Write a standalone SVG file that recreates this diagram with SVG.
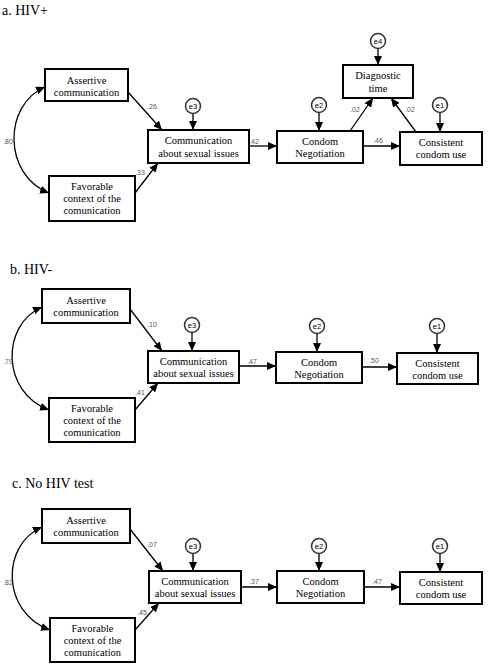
<svg xmlns="http://www.w3.org/2000/svg" width="488" height="668" viewBox="0 0 488 668">
<style>
.box{fill:#fff;stroke:#000;stroke-width:2}
.err{fill:#fff;stroke:#333;stroke-width:1.5}
.t{font-family:"Liberation Serif","Times New Roman",serif;font-size:10.5px;fill:#000;text-anchor:middle}
.et{font-family:"Liberation Sans",Arial,sans-serif;font-size:7.5px;fill:#000;text-anchor:middle}
.lab{font-family:"Liberation Sans",Arial,sans-serif;font-size:7px;fill:#555;text-anchor:middle}
.title{font-family:"Liberation Serif","Times New Roman",serif;font-size:14px;fill:#000}
.c{fill:none;stroke:#000;stroke-width:1.3}
</style>
<defs>
<marker id="ah" markerUnits="userSpaceOnUse" markerWidth="10" markerHeight="8" refX="9" refY="4" orient="auto-start-reverse">
<path d="M0,0 L9,4 L0,8 Z" fill="#000"/>
</marker>
</defs>
<rect width="488" height="668" fill="#fff"/>

<text class="title" x="2" y="15">a. HIV+</text>
<text class="title" x="10" y="274">b. HIV-</text>
<text class="title" x="12" y="488">c. No HIV test</text>

<g id="connectors">
<!-- panel a -->
<path class="c" d="M45,87 C3,105 3,175 49,193" marker-start="url(#ah)" marker-end="url(#ah)"/>
<line class="c" x1="128" y1="92" x2="162" y2="130" marker-end="url(#ah)"/>
<line class="c" x1="135" y1="193" x2="158" y2="163" marker-end="url(#ah)"/>
<line class="c" x1="193" y1="113.5" x2="193" y2="130" marker-end="url(#ah)"/>
<line class="c" x1="249" y1="146" x2="277" y2="146" marker-end="url(#ah)"/>
<line class="c" x1="319" y1="112.5" x2="319" y2="131" marker-end="url(#ah)"/>
<line class="c" x1="363" y1="146" x2="400" y2="146" marker-end="url(#ah)"/>
<line class="c" x1="440" y1="112.5" x2="440" y2="132" marker-end="url(#ah)"/>
<line class="c" x1="378" y1="48.5" x2="378" y2="65" marker-end="url(#ah)"/>
<line class="c" x1="350" y1="131" x2="373" y2="98" marker-end="url(#ah)"/>
<line class="c" x1="416" y1="132" x2="391" y2="98" marker-end="url(#ah)"/>
<!-- panel b -->
<path class="c" d="M42,307 C1,325 1,392 49,410" marker-start="url(#ah)" marker-end="url(#ah)"/>
<line class="c" x1="130" y1="309" x2="162" y2="351" marker-end="url(#ah)"/>
<line class="c" x1="135" y1="410" x2="158" y2="383" marker-end="url(#ah)"/>
<line class="c" x1="192" y1="332.5" x2="192" y2="351" marker-end="url(#ah)"/>
<line class="c" x1="239" y1="366" x2="276" y2="366" marker-end="url(#ah)"/>
<line class="c" x1="317" y1="333.5" x2="317" y2="352" marker-end="url(#ah)"/>
<line class="c" x1="362" y1="367" x2="397" y2="367" marker-end="url(#ah)"/>
<line class="c" x1="437" y1="333.5" x2="437" y2="353" marker-end="url(#ah)"/>
<!-- panel c -->
<path class="c" d="M42,527 C1,545 1,612 50,630" marker-start="url(#ah)" marker-end="url(#ah)"/>
<line class="c" x1="130" y1="529" x2="163" y2="571" marker-end="url(#ah)"/>
<line class="c" x1="135" y1="630" x2="159" y2="603" marker-end="url(#ah)"/>
<line class="c" x1="193" y1="553.5" x2="193" y2="571" marker-end="url(#ah)"/>
<line class="c" x1="241" y1="587" x2="277" y2="587" marker-end="url(#ah)"/>
<line class="c" x1="319" y1="553.5" x2="319" y2="571" marker-end="url(#ah)"/>
<line class="c" x1="364" y1="587" x2="400" y2="587" marker-end="url(#ah)"/>
<line class="c" x1="440" y1="553.5" x2="440" y2="572" marker-end="url(#ah)"/>
</g>

<g id="labels">
<text class="lab" x="8" y="144">.80</text>
<text class="lab" x="152" y="109">.26</text>
<text class="lab" x="140" y="175">.33</text>
<text class="lab" x="254" y="144">.42</text>
<text class="lab" x="378" y="143">.46</text>
<text class="lab" x="355" y="112">.02</text>
<text class="lab" x="410" y="112">.02</text>

<text class="lab" x="8" y="364">.79</text>
<text class="lab" x="152" y="327">.10</text>
<text class="lab" x="140" y="395">.41</text>
<text class="lab" x="252" y="364">.47</text>
<text class="lab" x="374" y="363">.50</text>

<text class="lab" x="8" y="585">.82</text>
<text class="lab" x="152" y="547">.07</text>
<text class="lab" x="142" y="615">.45</text>
<text class="lab" x="254" y="584">.37</text>
<text class="lab" x="377" y="584">.47</text>
</g>

<!-- panel a nodes -->
<g id="a-assertive"><rect class="box" x="45" y="69" width="83" height="32"/><text class="t" x="86.5" y="84">Assertive</text><text class="t" x="86.5" y="96">communication</text></g>
<g id="a-favorable"><rect class="box" x="49" y="176" width="86" height="45"/><text class="t" x="92" y="190">Favorable</text><text class="t" x="92" y="202">context of the</text><text class="t" x="92" y="214">comunication</text></g>
<g id="a-comm"><rect class="box" x="148" y="130" width="101" height="33"/><text class="t" x="198.5" y="144">Communication</text><text class="t" x="198.5" y="157">about sexual issues</text></g>
<g id="a-condom"><rect class="box" x="277" y="131" width="86" height="32"/><text class="t" x="320" y="145">Condom</text><text class="t" x="320" y="157">Negotiation</text></g>
<g id="a-diag"><rect class="box" x="343" y="65" width="70" height="33"/><text class="t" x="378" y="79">Diagnostic</text><text class="t" x="378" y="92">time</text></g>
<g id="a-consistent"><rect class="box" x="400" y="132" width="82" height="33"/><text class="t" x="441" y="146">Consistent</text><text class="t" x="441" y="158">condom use</text></g>
<g id="a-e3"><circle class="err" cx="193" cy="106" r="7.5"/><text class="et" x="193" y="108.7">e3</text></g>
<g id="a-e2"><circle class="err" cx="319" cy="105" r="7.5"/><text class="et" x="319" y="107.7">e2</text></g>
<g id="a-e4"><circle class="err" cx="378" cy="41" r="7.5"/><text class="et" x="378" y="43.7">e4</text></g>
<g id="a-e1"><circle class="err" cx="440" cy="105" r="7.5"/><text class="et" x="440" y="107.7">e1</text></g>

<!-- panel b nodes -->
<g id="b-assertive"><rect class="box" x="42" y="289" width="88" height="34"/><text class="t" x="86" y="304">Assertive</text><text class="t" x="86" y="316">communication</text></g>
<g id="b-favorable"><rect class="box" x="49" y="398" width="86" height="44"/><text class="t" x="92" y="412">Favorable</text><text class="t" x="92" y="424">context of the</text><text class="t" x="92" y="436">comunication</text></g>
<g id="b-comm"><rect class="box" x="148" y="351" width="91" height="32"/><text class="t" x="193.5" y="365">Communication</text><text class="t" x="193.5" y="377">about sexual issues</text></g>
<g id="b-condom"><rect class="box" x="276" y="352" width="86" height="31"/><text class="t" x="319" y="366">Condom</text><text class="t" x="319" y="378">Negotiation</text></g>
<g id="b-consistent"><rect class="box" x="397" y="353" width="81" height="31"/><text class="t" x="437.5" y="367">Consistent</text><text class="t" x="437.5" y="379">condom use</text></g>
<g id="b-e3"><circle class="err" cx="192" cy="325" r="7.5"/><text class="et" x="192" y="327.7">e3</text></g>
<g id="b-e2"><circle class="err" cx="317" cy="326" r="7.5"/><text class="et" x="317" y="328.7">e2</text></g>
<g id="b-e1"><circle class="err" cx="437" cy="326" r="7.5"/><text class="et" x="437" y="328.7">e1</text></g>

<!-- panel c nodes -->
<g id="c-assertive"><rect class="box" x="42" y="509" width="88" height="34"/><text class="t" x="86" y="524">Assertive</text><text class="t" x="86" y="536">communication</text></g>
<g id="c-favorable"><rect class="box" x="50" y="618" width="85" height="44"/><text class="t" x="92.5" y="632">Favorable</text><text class="t" x="92.5" y="644">context of the</text><text class="t" x="92.5" y="656">comunication</text></g>
<g id="c-comm"><rect class="box" x="149" y="571" width="92" height="32"/><text class="t" x="195" y="585">Communication</text><text class="t" x="195" y="597">about sexual issues</text></g>
<g id="c-condom"><rect class="box" x="277" y="571" width="87" height="32"/><text class="t" x="320.5" y="585">Condom</text><text class="t" x="320.5" y="597">Negotiation</text></g>
<g id="c-consistent"><rect class="box" x="400" y="572" width="82" height="32"/><text class="t" x="441" y="586">Consistent</text><text class="t" x="441" y="598">condom use</text></g>
<g id="c-e3"><circle class="err" cx="193" cy="546" r="7.5"/><text class="et" x="193" y="548.7">e3</text></g>
<g id="c-e2"><circle class="err" cx="319" cy="546" r="7.5"/><text class="et" x="319" y="548.7">e2</text></g>
<g id="c-e1"><circle class="err" cx="440" cy="546" r="7.5"/><text class="et" x="440" y="548.7">e1</text></g>
</svg>
